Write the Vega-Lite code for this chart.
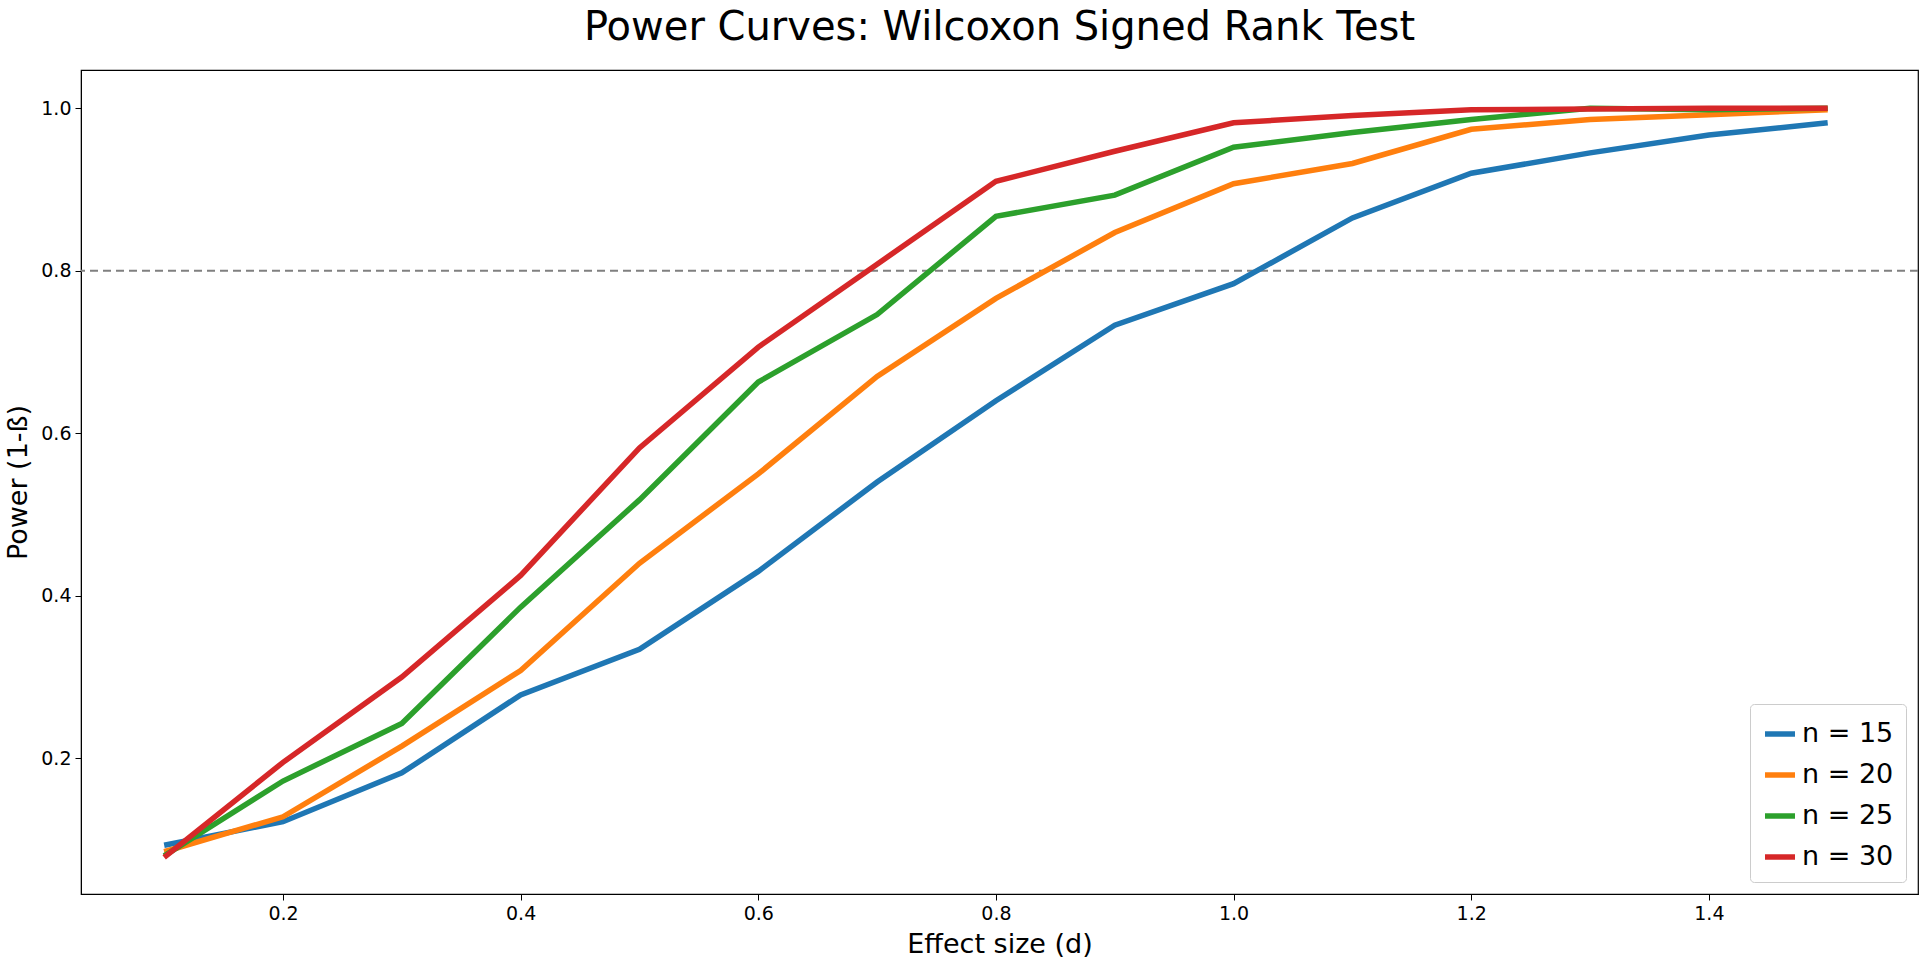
{
  "$schema": "https://vega.github.io/schema/vega-lite/v6.json",
  "width": 1837,
  "height": 824,
  "autosize": "none",
  "padding": {"left": 81, "top": 70, "right": 2, "bottom": 67},
  "background": "white",
  "title": {"text": "Power Curves: Wilcoxon Signed Rank Test", "fontSize": 40, "font": "DejaVu Sans", "fontWeight": "normal", "offset": 22},
  "datasets": {
    "power": [
      {"d": 0.1, "n": "n = 15", "p": 0.093}, {"d": 0.2, "n": "n = 15", "p": 0.122}, {"d": 0.3, "n": "n = 15", "p": 0.182}, {"d": 0.4, "n": "n = 15", "p": 0.278}, {"d": 0.5, "n": "n = 15", "p": 0.334}, {"d": 0.6, "n": "n = 15", "p": 0.43}, {"d": 0.7, "n": "n = 15", "p": 0.54}, {"d": 0.8, "n": "n = 15", "p": 0.64}, {"d": 0.9, "n": "n = 15", "p": 0.733}, {"d": 1.0, "n": "n = 15", "p": 0.784}, {"d": 1.1, "n": "n = 15", "p": 0.865}, {"d": 1.2, "n": "n = 15", "p": 0.92}, {"d": 1.3, "n": "n = 15", "p": 0.945}, {"d": 1.4, "n": "n = 15", "p": 0.967}, {"d": 1.5, "n": "n = 15", "p": 0.982},
      {"d": 0.1, "n": "n = 20", "p": 0.085}, {"d": 0.2, "n": "n = 20", "p": 0.128}, {"d": 0.3, "n": "n = 20", "p": 0.215}, {"d": 0.4, "n": "n = 20", "p": 0.308}, {"d": 0.5, "n": "n = 20", "p": 0.44}, {"d": 0.6, "n": "n = 20", "p": 0.55}, {"d": 0.7, "n": "n = 20", "p": 0.67}, {"d": 0.8, "n": "n = 20", "p": 0.766}, {"d": 0.9, "n": "n = 20", "p": 0.847}, {"d": 1.0, "n": "n = 20", "p": 0.907}, {"d": 1.1, "n": "n = 20", "p": 0.932}, {"d": 1.2, "n": "n = 20", "p": 0.974}, {"d": 1.3, "n": "n = 20", "p": 0.986}, {"d": 1.4, "n": "n = 20", "p": 0.992}, {"d": 1.5, "n": "n = 20", "p": 0.998},
      {"d": 0.1, "n": "n = 25", "p": 0.08}, {"d": 0.2, "n": "n = 25", "p": 0.172}, {"d": 0.3, "n": "n = 25", "p": 0.243}, {"d": 0.4, "n": "n = 25", "p": 0.386}, {"d": 0.5, "n": "n = 25", "p": 0.518}, {"d": 0.6, "n": "n = 25", "p": 0.663}, {"d": 0.7, "n": "n = 25", "p": 0.746}, {"d": 0.8, "n": "n = 25", "p": 0.867}, {"d": 0.9, "n": "n = 25", "p": 0.893}, {"d": 1.0, "n": "n = 25", "p": 0.952}, {"d": 1.1, "n": "n = 25", "p": 0.97}, {"d": 1.2, "n": "n = 25", "p": 0.986}, {"d": 1.3, "n": "n = 25", "p": 1.0}, {"d": 1.4, "n": "n = 25", "p": 0.998}, {"d": 1.5, "n": "n = 25", "p": 1.0},
      {"d": 0.1, "n": "n = 30", "p": 0.078}, {"d": 0.2, "n": "n = 30", "p": 0.195}, {"d": 0.3, "n": "n = 30", "p": 0.3}, {"d": 0.4, "n": "n = 30", "p": 0.425}, {"d": 0.5, "n": "n = 30", "p": 0.582}, {"d": 0.6, "n": "n = 30", "p": 0.706}, {"d": 0.7, "n": "n = 30", "p": 0.808}, {"d": 0.8, "n": "n = 30", "p": 0.91}, {"d": 0.9, "n": "n = 30", "p": 0.947}, {"d": 1.0, "n": "n = 30", "p": 0.982}, {"d": 1.1, "n": "n = 30", "p": 0.991}, {"d": 1.2, "n": "n = 30", "p": 0.998}, {"d": 1.3, "n": "n = 30", "p": 0.999}, {"d": 1.4, "n": "n = 30", "p": 1.0}, {"d": 1.5, "n": "n = 30", "p": 1.0}
    ],
    "threshold": [{"y": 0.8}]
  },
  "layer": [
    {
      "data": {"name": "threshold"},
      "mark": {"type": "rule", "color": "#808080", "strokeDash": [8, 5], "strokeWidth": 2},
      "encoding": {"y": {"field": "y", "type": "quantitative", "scale": {"domain": [0.033, 1.047]}}}
    },
    {
      "data": {"name": "power"},
      "mark": {"type": "line", "strokeWidth": 5.5},
      "encoding": {
        "x": {"field": "d", "type": "quantitative", "title": "Effect size (d)",
              "scale": {"domain": [0.03, 1.576], "nice": false, "zero": false},
              "axis": {"values": [0.2, 0.4, 0.6, 0.8, 1.0, 1.2, 1.4], "format": ".1f"}},
        "y": {"field": "p", "type": "quantitative", "title": "Power (1-ß)",
              "scale": {"domain": [0.033, 1.047], "nice": false, "zero": false},
              "axis": {"values": [0.2, 0.4, 0.6, 0.8, 1.0], "format": ".1f"}},
        "color": {"field": "n", "type": "nominal", "title": null,
                  "scale": {"range": ["#1f77b4", "#ff7f0e", "#2ca02c", "#d62728"]},
                  "legend": {"orient": "bottom-right", "symbolType": "stroke", "symbolStrokeWidth": 5.5, "symbolSize": 900,
                             "labelFontSize": 27, "labelFont": "DejaVu Sans", "rowPadding": 10,
                             "strokeColor": "#cccccc", "fillColor": "white", "padding": 12, "cornerRadius": 4, "offset": 12}}
      }
    }
  ],
  "config": {
    "view": {"stroke": "black", "strokeWidth": 1.2},
    "axis": {"grid": false, "labelFont": "DejaVu Sans", "titleFont": "DejaVu Sans", "labelFontSize": 19, "titleFontSize": 27,
             "titleFontWeight": "normal", "labelColor": "black", "titleColor": "black", "domainColor": "black",
             "tickColor": "black", "tickSize": 6, "labelPadding": 4, "titlePadding": 8}
  }
}
